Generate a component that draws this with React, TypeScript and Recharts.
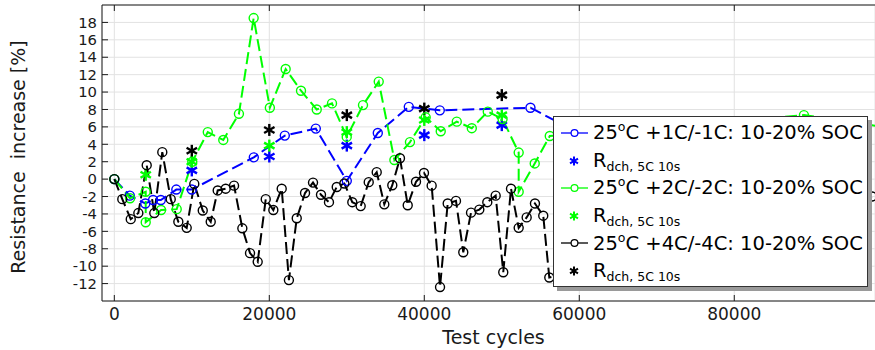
import React from "react";
import { CartesianGrid, ComposedChart, Legend, Line, ReferenceLine, Scatter, XAxis, YAxis } from "recharts";

// 25°C +1C/-1C cycling, 10-20% SOC (blue)
const cycles1C = [0, 2000, 4000, 5000, 6000, 8000, 10000, 18000, 22000, 26000, 30000, 34000, 38000, 42000, 53700, 58000];
const resistance1C = [0, -1.9, -2.8, -2.4, -2.4, -1.2, -1.2, 2.5, 5.0, 5.8, -0.2, 5.3, 8.3, 7.9, 8.2, 6.2];

// 25°C +2C/-2C cycling (green)
const cycles2C = [
  0, 2030, 4050, 4050, 6030, 8050, 10060, 12060, 14060, 16080, 17980, 20070, 22110, 24090, 26120, 28090, 29990,
  32090, 34120, 36140, 38150, 40180, 42120, 44190, 46130, 48190, 50100, 52180, 52180, 54250, 56190, 88990, 100000,
];
const resistance2C = [
  0, -2.2, -1.45, -4.95, -3.55, -3.45, 2.0, 5.4, 4.5, 7.5, 18.5, 8.2, 12.65, 10.15, 8.0, 8.7, 4.85, 8.5, 11.2, 2.2,
  4.25, 7.1, 5.5, 6.6, 5.85, 7.75, 6.9, 3.05, -1.45, 1.8, 4.95, 7.35, 5.9,
];

// 25°C +4C/-4C cycling (black)
const cycles4C = [
  0, 1030, 2120, 3100, 4180, 5160, 6190, 7280, 8260, 9340, 10320, 11410, 12440, 13340, 14370, 15450, 16520, 17510,
  18500, 19540, 20520, 21600, 22530, 23540, 24610, 25640, 26670, 27700, 28700, 29680, 30710, 31790, 32830, 33860,
  34840, 35870, 36860, 37860, 38930, 39960, 40950, 42030, 43020, 44090, 45030, 46030, 47100, 48130, 49210, 50190,
  51190, 52180, 53210, 54280, 55350, 56130, 97770,
];
const resistance4C = [
  0, -2.3, -4.6, -3.9, 1.6, -3.9, 3.1, -2.3, -4.9, -5.6, -0.55, -3.6, -4.9, -1.3, -1.1, -0.75, -5.65, -8.5, -9.5, -2.3,
  -3.55, -1.1, -11.6, -4.5, -1.6, -0.4, -1.8, -2.65, -0.9, -0.5, -2.65, -3.1, -0.35, 0.8, -2.9, -0.7, 2.4, -3.0, -0.3,
  0.7, -0.75, -12.4, -2.8, -2.5, -8.4, -3.85, -3.5, -2.65, -1.9, -10.7, -1.1, -5.6, -4.4, -2.8, -4.2, -11.3, -2.0,
];

// R_dch, 5C 10s check-ups
const checkupCycles = [10000, 20000, 30000, 40000, 50000];
const dch1C = [1.0, 2.6, 3.85, 5.05, 6.2];
const checkupCycles2C = [4050, 10000, 20000, 30000, 40000, 50000];
const dch2C = [0.5, 2.0, 3.85, 5.4, 6.8, 7.35];
const dch4C = [3.25, 5.65, 7.35, 8.1, 9.65];

const xTicks = [0, 20000, 40000, 60000, 80000];
const yTicks = [-12, -10, -8, -6, -4, -2, 0, 2, 4, 6, 8, 10, 12, 14, 16, 18];

const rates = ["+1C/-1C", "+2C/-2C", "+4C/-4C"];
const colors = ["#0000ff", "#00ff00", "#000000"];

const FONT = "DejaVu Sans";
const AXIS = "#1a1a1a";
const PLOT_TOP = 5;
const X_GAP = 7;
const Y_GAP = 5;

const toPoints = (xs: number[], ys: number[]) => xs.map((x, i) => ({ x, y: ys[i] }));

function Asterisk({ cx, cy, color, size = 6, width = 2.4 }: any) {
  const dx = size * Math.cos(Math.PI / 6);
  const dy = size * Math.sin(Math.PI / 6);
  return (
    <g stroke={color} strokeWidth={width}>
      <line x1={cx} y1={cy - size} x2={cx} y2={cy + size} />
      <line x1={cx - dx} y1={cy - dy} x2={cx + dx} y2={cy + dy} />
      <line x1={cx - dx} y1={cy + dy} x2={cx + dx} y2={cy - dy} />
    </g>
  );
}

function XTick(props: any) {
  const { x, y, payload } = props;
  const axisY = y - X_GAP;
  return (
    <g>
      <line x1={x} x2={x} y1={axisY} y2={axisY - 6} stroke={AXIS} />
      <line x1={x} x2={x} y1={PLOT_TOP} y2={PLOT_TOP + 6} stroke={AXIS} />
      <text x={x} y={y} dy="0.71em" textAnchor="middle" fontSize={17} fontFamily={FONT} fill={AXIS}>
        {payload.value}
      </text>
    </g>
  );
}

function YTick(props: any) {
  const { x, y, payload } = props;
  const axisX = x + Y_GAP;
  return (
    <g>
      <line x1={axisX} x2={axisX + 6} y1={y} y2={y} stroke={AXIS} />
      <text x={x} y={y} dy="0.355em" textAnchor="end" fontSize={14.8} fontFamily={FONT} fill={AXIS}>
        {payload.value}
      </text>
    </g>
  );
}

const rowStyle: React.CSSProperties = { height: 27.6, display: "flex", alignItems: "center", whiteSpace: "pre" };

function LegendBox() {
  return (
    <div
      style={{
        width: 315,
        height: 171,
        boxSizing: "border-box",
        border: "1px solid #333",
        background: "#fff",
        boxShadow: "4px 4px 0 #9a9a9a",
        paddingTop: 2,
        fontFamily: FONT,
        fontSize: 19.5,
        color: "#000",
      }}
    >
      {rates.map((rate, i) => (
        <React.Fragment key={rate}>
          <div style={rowStyle}>
            <svg width={39} height={27.6}>
              <line x1={7} x2={34} y1={14} y2={14} stroke={colors[i]} strokeWidth={1.3} />
              <circle cx={20.5} cy={14} r={3.4} fill="#fff" stroke={colors[i]} strokeWidth={1.2} />
            </svg>
            <span>
              25<span style={{ fontSize: 12.5, position: "relative", top: -8 }}>o</span>C {rate}: 10-20% SOC
            </span>
          </div>
          <div style={rowStyle}>
            <svg width={39} height={27.6}>
              <Asterisk cx={20} cy={14} size={4.6} width={2} color={colors[i]} />
            </svg>
            <span>
              R<span style={{ fontSize: 12.5, position: "relative", top: 4 }}>dch, 5C 10s</span>
            </span>
          </div>
        </React.Fragment>
      ))}
    </div>
  );
}

export default function App() {
  const lines = [toPoints(cycles1C, resistance1C), toPoints(cycles2C, resistance2C), toPoints(cycles4C, resistance4C)];
  const stars = [toPoints(checkupCycles, dch1C), toPoints(checkupCycles2C, dch2C), toPoints(checkupCycles, dch4C)];

  return (
    <div style={{ position: "absolute", left: 0, top: 0, background: "#fff" }}>
      <ComposedChart width={875} height={350} margin={{ top: PLOT_TOP, right: 0, bottom: 0, left: 0 }}>
        <CartesianGrid stroke="#e2e2e2" strokeWidth={1} />
        <XAxis
          type="number"
          dataKey="x"
          domain={[-1590, 98160]}
          ticks={xTicks}
          interval={0}
          allowDataOverflow
          height={49}
          tickSize={0}
          tickMargin={X_GAP}
          tick={<XTick />}
          axisLine={{ stroke: AXIS }}
          label={(p: any) => (
            <text
              x={p.viewBox.x + p.viewBox.width / 2 + 5}
              y={337}
              textAnchor="middle"
              dominantBaseline="central"
              fontSize={19}
              fontFamily={FONT}
              fill={AXIS}
            >
              Test cycles
            </text>
          )}
        />
        <YAxis
          type="number"
          dataKey="y"
          domain={[-14, 20]}
          ticks={yTicks}
          interval={0}
          allowDataOverflow
          width={102}
          tickSize={0}
          tickMargin={Y_GAP}
          tick={<YTick />}
          axisLine={{ stroke: AXIS }}
          label={(p: any) => {
            const cy = p.viewBox.y + p.viewBox.height / 2 + 4;
            return (
              <text
                x={18}
                y={cy}
                transform={`rotate(-90, 18, ${cy})`}
                textAnchor="middle"
                dominantBaseline="central"
                fontSize={19}
                fontFamily={FONT}
                fill={AXIS}
                style={{ whiteSpace: "pre" }}
              >
                {"Resistance  increase [%]"}
              </text>
            );
          }}
        />
        <ReferenceLine y={20} stroke={AXIS} strokeWidth={1} />
        {rates.map((rate, i) => [
          <Line
            key={`line-${rate}`}
            data={lines[i]}
            dataKey="y"
            type="linear"
            stroke={colors[i]}
            strokeWidth={2}
            strokeDasharray="12 5"
            dot={{ r: 4.5, fill: "none", stroke: colors[i], strokeWidth: 1.4, strokeDasharray: "none" }}
            isAnimationActive={false}
          />,
          <Scatter
            key={`star-${rate}`}
            data={stars[i]}
            dataKey="y"
            shape={(p: any) => <Asterisk cx={p.cx} cy={p.cy} color={colors[i]} />}
            isAnimationActive={false}
          />,
        ])}
        <Legend
          layout="vertical"
          align="center"
          verticalAlign="middle"
          content={() => <LegendBox />}
          wrapperStyle={{ position: "absolute", left: 553, top: 116, width: 320, margin: 0, padding: 0 }}
        />
      </ComposedChart>
    </div>
  );
}
